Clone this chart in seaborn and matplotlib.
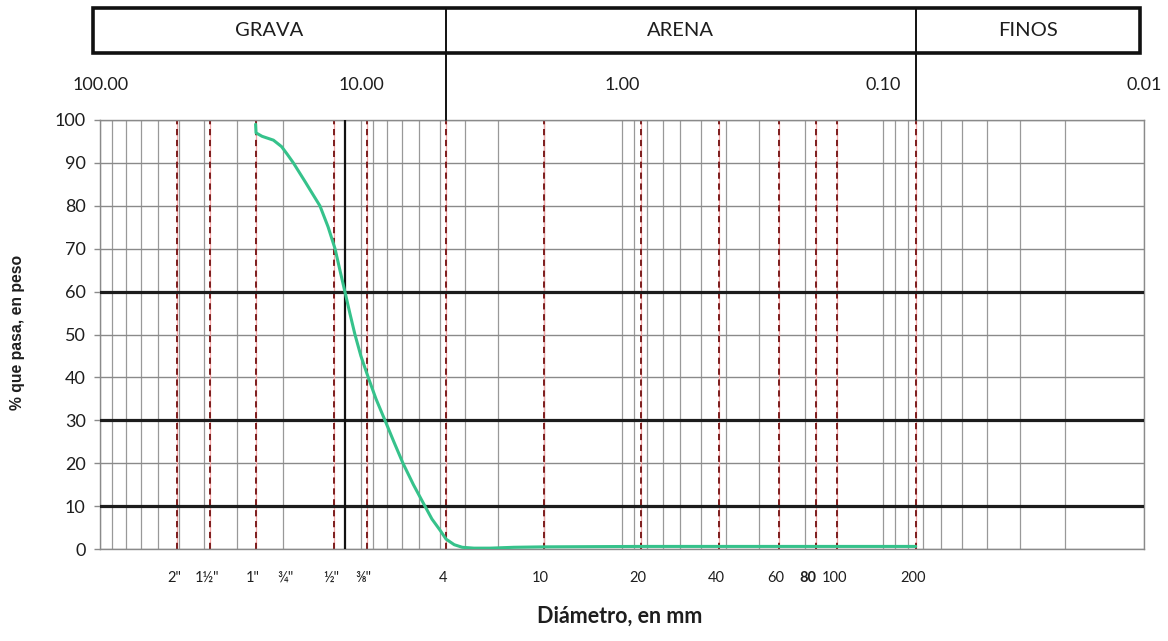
import numpy as np
import matplotlib
matplotlib.use("Agg")
import matplotlib.pyplot as plt
import matplotlib.transforms as mtransforms
from matplotlib import ticker
from matplotlib.patches import Rectangle
import seaborn as sns

# Grading curve: particle diameter (mm) and percent passing by weight
diam_mm = [25.4, 25.3, 24.0, 21.7, 20.2, 19.2, 18.2, 16.4, 15.3, 14.4, 13.9,
           13.4, 12.6, 12.07, 11.55, 11.06, 10.57, 10.03, 9.40, 8.78, 8.11,
           7.50, 6.92, 6.31, 5.70, 5.36, 4.99, 4.73, 4.40, 4.10, 3.70, 3.20,
           2.60, 2.0, 0.85, 0.425, 0.25, 0.18, 0.15, 0.075]
passing = [99.0, 97.0, 96.2, 95.3, 93.8, 92.0, 90.0, 85.6, 82.6, 80.0, 77.6,
           75.1, 70.0, 65.0, 60.0, 55.0, 50.0, 45.0, 40.0, 35.0, 30.0,
           25.0, 20.0, 15.0, 10.0, 7.0, 4.4, 2.3, 1.0, 0.4, 0.2, 0.2,
           0.4, 0.5, 0.6, 0.6, 0.6, 0.6, 0.6, 0.6]

# Sieve openings (mm) and their names
sieve_mm = [50.8, 38.1, 25.4, 19.05, 12.7, 9.525, 4.75, 2.0, 0.85, 0.425,
            0.25, 0.18, 0.15, 0.075]
sieve_names = ['2"', '1½"', '1"', '¾"', '½"', '⅜"', '4', '10', '20', '40',
               '60', '80', '100', '200']
sieve_marked = [True, True, True, False, True, True, True, True, True, True,
                True, True, True, True]
sieve_bold = ['80']

d60_mm = 11.5
decade_ticks = [100, 10, 1, 0.1, 0.01]
y_ticks = list(range(0, 101, 10))
heavy_levels = [60, 30, 10]

band_names = ['GRAVA', 'ARENA', 'FINOS']
band_limits = [100, 4.75, 0.075, 0.01]

sns.set_theme(style="white")
FONT = ['Lato', 'DejaVu Sans']
plt.rcParams['font.family'] = FONT
TXT = '#1e1e1e'

W, H = 1168, 641
fig = plt.figure(figsize=(W / 100, H / 100), dpi=100)
fig.patch.set_facecolor('white')

left_px, right_px, top_px, bot_px = 100.3, 1144.0, 120.0, 549.0
ax = fig.add_axes([left_px / W, 1 - bot_px / H,
                   (right_px - left_px) / W, (bot_px - top_px) / H])
ax.set_xscale('log')
ax.set_xlim(100, 0.01)
ax.set_ylim(0, 100)
ax.set_facecolor('white')

# logarithmic vertical grid
grid_pos = ticker.LogLocator(base=10, subs=np.arange(1, 10)).tick_values(0.01, 100)
for g in grid_pos:
    if 0.01 <= g <= 100:
        ax.axvline(g, color='#999999', lw=0.9, zorder=1)

# horizontal grid
for yv in y_ticks:
    if yv in heavy_levels:
        ax.axhline(yv, color='#1c1c1c', lw=2.3, zorder=3)
    else:
        ax.axhline(yv, color='#8a8a8a', lw=1.0, zorder=1)

# sieve lines
for s, m in zip(sieve_mm, sieve_marked):
    if m:
        ax.axvline(s, color='#f4a6a6', lw=0.9, zorder=2)
        ax.axvline(s, color='#7d1d1d', lw=1.4, ls=(0, (3.2, 2.4)), zorder=2)

ax.axvline(d60_mm, color='#111111', lw=1.6, zorder=4)

sns.lineplot(x=diam_mm, y=passing, ax=ax, color='#36c28b', lw=2.2,
             sort=False, estimator=None, zorder=5)

for sp in ax.spines.values():
    sp.set_color('#8a8a8a')
    sp.set_linewidth(1.0)

ax.xaxis.set_major_locator(ticker.NullLocator())
ax.xaxis.set_minor_locator(ticker.NullLocator())
ax.set_yticks(y_ticks)
ax.set_yticklabels([str(v) for v in y_ticks])
ax.tick_params(axis='y', which='major', left=True, length=4.5, width=1.0,
               color='#8a8a8a', labelsize=13, labelcolor=TXT, pad=6)
ax.set_xlabel('')
ax.set_ylabel('')

to_axes = ax.transScale + ax.transLimits
def ax_frac(d):
    return to_axes.transform((d, 1))[0]

span = bot_px - top_px
blend = mtransforms.blended_transform_factory(ax.transData, ax.transAxes)

# decade labels above the plot
for d in decade_ticks:
    ax.text(d, (bot_px - 85) / span, f"{d:.2f}", transform=blend,
            ha='center', va='center', fontsize=13, color=TXT,
            clip_on=False)

# sieve names below the plot
lab_tr = mtransforms.offset_copy(blend, fig=fig, x=-3, y=0, units='dots')
for s, name in zip(sieve_mm, sieve_names):
    is_bold = name in sieve_bold
    ax.text(s, (bot_px - 578) / span, name,
            transform=blend if is_bold else lab_tr,
            ha='right' if is_bold else 'center', va='center',
            fontsize=10.5, color=TXT,
            fontweight='bold' if is_bold else 'normal', clip_on=False)

# soil-class band
box_bot = (bot_px - 53) / span
box_top = (bot_px - 8) / span
box_l = (93 - left_px) / (right_px - left_px)
box_r = (1140 - left_px) / (right_px - left_px)
ax.add_patch(Rectangle((box_l, box_bot), box_r - box_l, box_top - box_bot,
                       transform=ax.transAxes, fill=False, ec='#111111',
                       lw=2.6, clip_on=False, zorder=6))
for b in band_limits[1:-1]:
    ax.plot([b, b], [1.0, box_top], transform=blend, color='#111111',
            lw=1.4, clip_on=False, zorder=6)
edges = [box_l] + [ax_frac(b) for b in band_limits[1:-1]] + [box_r]
for i, name in enumerate(band_names):
    xm = 0.5 * (edges[i] + edges[i + 1])
    ax.text(xm, (bot_px - 31) / span, name, transform=ax.transAxes,
            ha='center', va='center', fontsize=14.5, color=TXT,
            clip_on=False)

fig.text(620 / W, 1 - 616 / H, 'Diámetro, en mm', ha='center', va='center',
         fontsize=15.5, fontweight='bold', color=TXT)
fig.text(18 / W, 1 - 332 / H, '% que pasa, en peso', ha='center',
         va='center', rotation=90, fontsize=11.3, fontweight='bold',
         color=TXT, family=['Liberation Sans', 'DejaVu Sans'])

fig.savefig('out.png', dpi=100, facecolor='white')
